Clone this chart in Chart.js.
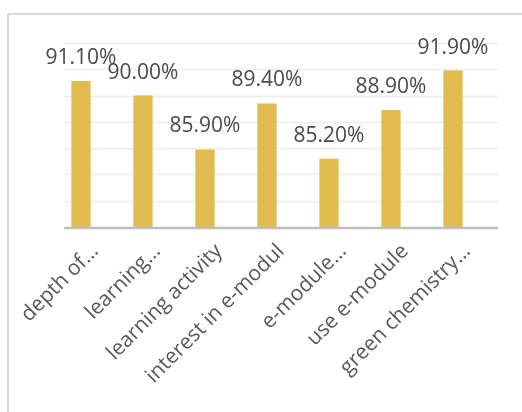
<!DOCTYPE html>
<html>
<head>
<meta charset="utf-8">
<script src="https://cdn.jsdelivr.net/npm/chart.js@4.4.1/dist/chart.umd.min.js"></script>
<style>
    html, body { margin: 0; padding: 0; background: #fff; }
    #wrap { position: relative; width: 522px; height: 412px; overflow: hidden; }
    #frame {
        position: absolute; left: 7px; top: 13px; width: 600px; height: 500px;
        border-top: 2px solid #d9d9d9; border-left: 2px solid #d9d9d9;
    }
    canvas { position: absolute; left: 0; top: 0; }
</style>
</head>
<body>
<div id="wrap">
    <div id="frame"></div>
    <canvas id="chart" width="522" height="412"></canvas>
</div>
<script>
const categories = ['depth of…', 'learning…', 'learning activity', 'interest in e-modul', 'e-module…', 'use e-module', 'green chemistry…'];
const percentages = [91.1, 90.0, 85.9, 89.4, 85.2, 88.9, 91.9];
const yMin = 80;
const yMax = 94;
const yStep = 2;

const barColor = '#e0bb4e';
const textColor = '#4a4a4a';

// gridlines + axis line span a bit wider to the right than the bars do
const gridLeft = 64;
const gridRight = 498;

const gridLines = {
    id: 'gridLines',
    beforeDatasetsDraw(chart) {
        const ctx = chart.ctx;
        const y = chart.scales.y;
        ctx.save();
        ctx.strokeStyle = '#ececec';
        ctx.lineWidth = 1.5;
        for (let v = yMin + yStep; v <= yMax; v += yStep) {
            const py = Math.round(y.getPixelForValue(v)) + 0.5;
            ctx.beginPath();
            ctx.moveTo(gridLeft, py);
            ctx.lineTo(gridRight, py);
            ctx.stroke();
        }
        ctx.restore();
    },
    afterDatasetsDraw(chart) {
        const ctx = chart.ctx;
        const py = chart.scales.y.getPixelForValue(yMin) + 1;
        ctx.save();
        ctx.strokeStyle = '#bfbfbf';
        ctx.lineWidth = 2.5;
        ctx.beginPath();
        ctx.moveTo(gridLeft, py);
        ctx.lineTo(gridRight, py);
        ctx.stroke();
        ctx.restore();
    }
};

// draws "91.10%" style labels above each bar
const valueLabels = {
    id: 'valueLabels',
    afterDatasetsDraw(chart) {
        const ctx = chart.ctx;
        const meta = chart.getDatasetMeta(0);
        ctx.save();
        ctx.font = '21px "Open Sans"';
        ctx.fillStyle = textColor;
        ctx.textAlign = 'center';
        ctx.textBaseline = 'middle';
        meta.data.forEach((bar, i) => {
            ctx.fillText(percentages[i].toFixed(2) + '%', bar.x, bar.y - 23);
        });
        ctx.restore();
    }
};

new Chart(document.getElementById('chart'), {
    type: 'bar',
    data: {
        labels: categories,
        datasets: [{
            data: percentages,
            backgroundColor: barColor,
            borderWidth: 0,
            barPercentage: 0.62,
            categoryPercentage: 0.5
        }]
    },
    options: {
        responsive: false,
        animation: false,
        layout: { padding: { top: 43, right: 38, bottom: 0, left: 0 } },
        plugins: {
            legend: { display: false },
            tooltip: { enabled: false }
        },
        scales: {
            x: {
                grid: { display: false },
                border: { display: false },
                ticks: {
                    color: '#595959',
                    font: { family: 'Open Sans', size: 21 },
                    minRotation: 45,
                    maxRotation: 45,
                    autoSkip: false,
                    padding: 4,
                    labelOffset: 14
                },
                afterFit(scale) { scale.height = 185; }
            },
            y: {
                min: yMin,
                max: yMax,
                ticks: { stepSize: yStep, display: false },
                grid: { display: false },
                border: { display: false },
                afterFit(scale) { scale.width = 50; }
            }
        }
    },
    plugins: [gridLines, valueLabels]
});
</script>
</body>
</html>
